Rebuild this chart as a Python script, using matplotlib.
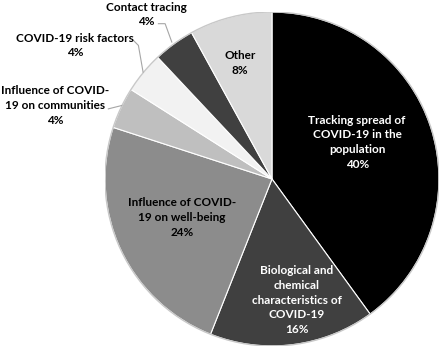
import numpy as np
import matplotlib.pyplot as plt

categories = [
    "Tracking spread of\nCOVID-19 in the\npopulation",
    "Biological and\nchemical\ncharacteristics of\nCOVID-19",
    "Influence of COVID-\n19 on well-being",
    "Influence of COVID-\n19 on communities",
    "COVID-19 risk factors",
    "Contact tracing",
    "Other",
]
shares = [40, 16, 24, 4, 4, 4, 8]
colors = ["#000000", "#404040", "#8c8c8c", "#bfbfbf", "#f2f2f2", "#404040", "#d9d9d9"]
text_colors = ["white", "white", "black", "black", "black", "black", "black"]

# label positions (axes data units, pie radius = 1)
label_pos = [(0.51, 0.22), (0.15, -0.725), (-0.54, -0.23), (-1.30, 0.44),
             (-1.18, 0.80), (-0.754, 0.985), (-0.19, 0.695)]
leaders = {3: [(-0.98, 0.42), (-0.90, 0.44)],
           4: [(-0.83, 0.83), (-0.80, 0.80), (-0.772, 0.64)],
           5: [(-0.68, 0.93), (-0.64, 0.93), (-0.60, 0.82)]}

plt.rcParams['font.family'] = ['Lato', 'DejaVu Sans']

fig = plt.figure(figsize=(4.47, 3.56), dpi=100)
ax = fig.add_axes([0.2349, 0.0281, 0.7472, 0.9382])

ax.pie(shares, colors=colors, startangle=90, counterclock=False,
       wedgeprops=dict(edgecolor="white", linewidth=0.8))
ax.add_patch(plt.Circle((0, 0), 1.0, fill=False, edgecolor="#c8c8c8", linewidth=1.0))

for i, (cat, val) in enumerate(zip(categories, shares)):
    x, y = label_pos[i]
    ax.text(x, y, f"{cat}\n{val}%", ha="center", va="center", fontsize=8.5,
            fontweight="bold", color=text_colors[i], linespacing=1.4,
            clip_on=False)

for pts in leaders.values():
    xs, ys = zip(*pts)
    ax.plot(xs, ys, color="#a6a6a6", linewidth=0.8, clip_on=False)

ax.set_xlim(-1, 1)
ax.set_ylim(-1, 1)
ax.set_aspect("equal")
ax.axis("off")

fig.savefig("out.png", dpi=100)
